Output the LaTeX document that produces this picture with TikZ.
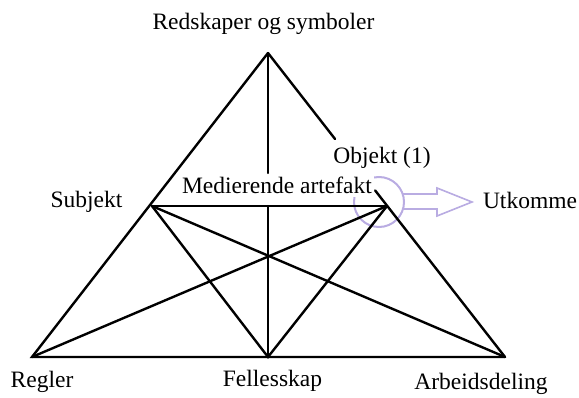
\documentclass[tikz,border=0pt]{standalone}
\usepackage{fontspec}
\setmainfont{Liberation Serif}
\usetikzlibrary{calc}
\definecolor{lilac}{RGB}{185,172,226}
\begin{document}
\begin{tikzpicture}[x=1pt,y=-1pt,
  edge/.style={line width=2.4pt,line cap=round},
  lbl/.style={anchor=base,inner sep=0pt,font=\fontsize{23.5}{28}\selectfont},
  masked/.style={lbl,fill=white,inner sep=2.5pt},
  ring/.style={draw=lilac,line width=2pt}]
\useasboundingbox (0,0) rectangle (579,398);
% vertices of the activity system
\coordinate (top) at (268,53);
\coordinate (subj) at (152,206);
\coordinate (obj) at (387,206);
\coordinate (regler) at (32,357);
\coordinate (felles) at (268,357);
\coordinate (arbeid) at (505,357);
\coordinate (mid) at (268,206);
\coordinate (vstop) at (268,173);
\coordinate (gapA) at ($(top)!0.283!(arbeid)$);
\coordinate (gapB) at ($(top)!0.452!(arbeid)$);
% outcome ring and hollow arrow
\draw[ring] (379,202) circle[radius=25];
\draw[ring,line width=1.6pt,line join=miter]
  (403,194) -- (437,194) -- (437,188) -- (472,202) -- (437,216) -- (437,209) -- (403,209);
% triangle structure
\draw[edge] (top) -- (regler) -- (arbeid);
\draw[edge] (top) -- (gapA);
\draw[edge] (gapB) -- (arbeid);
\draw[edge] (top) -- (vstop);
\draw[edge] (mid) -- (felles);
\draw[edge] (subj) -- (obj);
\draw[edge] (subj) -- (felles) -- (obj);
\draw[edge] (subj) -- (arbeid);
\draw[edge] (obj) -- (regler);
% labels
\node[lbl] (lred) at (263.5,30) {Redskaper og symboler};
\node[masked] (lmed) at (277,194) {Medierende artefakt};
\node[lbl] (lobj) at (382,164) {Objekt (1)};
\node[lbl] (lsub) at (86.5,208) {Subjekt};
\node[lbl] (lutk) at (530,209) {Utkomme};
\node[lbl] (lreg) at (42,388) {Regler};
\node[lbl] (lfel) at (272.5,387) {Fellesskap};
\node[lbl] (larb) at (481,390) {Arbeidsdeling};
\end{tikzpicture}
\end{document}
